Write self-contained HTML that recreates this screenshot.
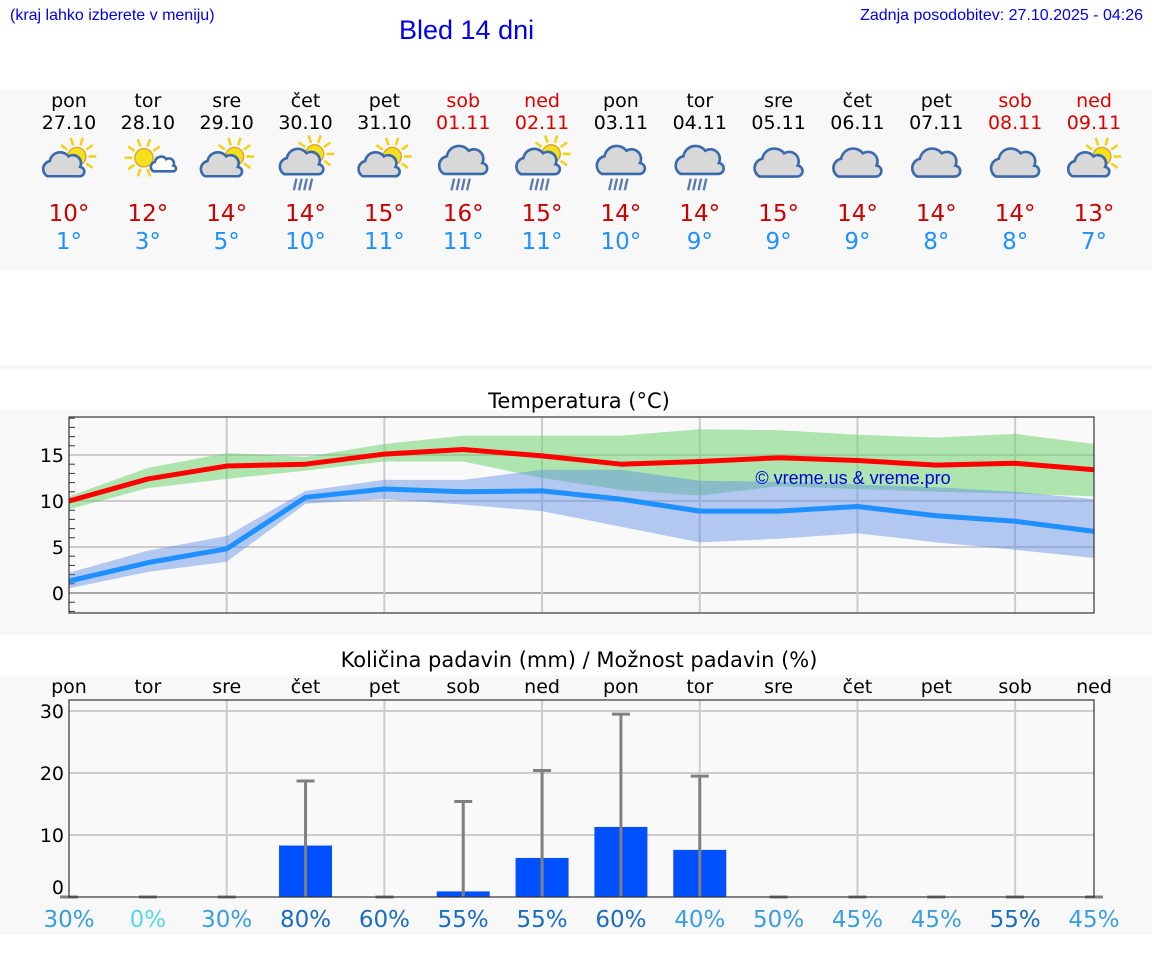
<!DOCTYPE html>
<html><head><meta charset="utf-8"><style>
body{margin:0;width:1152px;height:975px;background:#fff;font-family:"DejaVu Sans","Liberation Sans",sans-serif;position:relative;overflow:hidden}
.a{position:absolute}
</style></head><body>
<div class="a" style="left:10px;top:7px;font:16px 'Liberation Sans',sans-serif;color:#0000ee">(kraj lahko izberete v meniju)</div>
<div class="a" style="left:399px;top:15px;font:27px 'Liberation Sans',sans-serif;color:#0000ee">Bled 14 dni</div>
<div class="a" style="right:9px;top:7px;font:16px 'Liberation Sans',sans-serif;color:#0000ee">Zadnja posodobitev: 27.10.2025 - 04:26</div>
<div class="a" style="left:0;top:90px;width:1152px;height:180px;background:#f8f8f8"></div>
<div class="a" style="left:0;top:365px;width:1152px;height:5px;background:#f8f8f8"></div>
<div class="a" style="left:0;top:410px;width:1152px;height:225px;background:#f8f8f8"></div>
<div class="a" style="left:0;top:675px;width:1152px;height:260px;background:#f8f8f8"></div>
<svg id="ch" class="a" style="left:0;top:0" width="1152" height="975"></svg>
<script>
const days=["pon","tor","sre","čet","pet","sob","ned","pon","tor","sre","čet","pet","sob","ned"];
const dates=["27.10","28.10","29.10","30.10","31.10","01.11","02.11","03.11","04.11","05.11","06.11","07.11","08.11","09.11"];
const icons=["pc","ps","pc","pr","pc","cr","pr","cr","cr","c","c","c","c","pc"];
const tMaxLbl=[10,12,14,14,15,16,15,14,14,15,14,14,14,13];
const tMinLbl=[1,3,5,10,11,11,11,10,9,9,9,8,8,7];
const tMax=[10,12.4,13.8,14,15.1,15.6,14.9,14,14.3,14.7,14.4,13.9,14.1,13.4];
const tMaxHi=[10.5,13.6,15.2,14.8,16.2,17.1,17.1,17.1,17.8,17.7,17.2,16.9,17.3,16.2];
const tMaxLo=[9.1,11.4,12.4,13.3,14.3,14.3,12.5,11.2,10.6,11.6,11.3,11,10.8,10.5];
const tMin=[1.3,3.3,4.8,10.4,11.3,11,11.1,10.2,8.9,8.9,9.4,8.4,7.8,6.7];
const tMinHi=[2.2,4.6,6.2,11.1,12.3,12.3,13.4,13.4,12.2,12.1,11.8,11.5,11,10.2];
const tMinLo=[0.5,2.3,3.4,9.7,10.2,9.6,8.9,7.2,5.5,5.9,6.5,5.5,4.7,3.8];
const rain=[0,0,0,8.3,0,0.9,6.3,11.3,7.6,0,0,0,0,0];
const rainMax=[0,0,0,18.7,0,15.4,20.4,29.5,19.5,0,0,0,0,0];
const prob=[30,0,30,80,60,55,55,60,40,50,45,45,55,45];
const tTicks=[0,5,10,15];
const pTicks=[0,10,20,30];
const NS="http://www.w3.org/2000/svg";
const svg=document.getElementById('ch');
const X=i=>69+i*78.846;
const YT=v=>593-v*9.2;
const YP=v=>897-v*6.2;
function el(t,a,p){const e=document.createElementNS(NS,t);for(const k in a)e.setAttribute(k,a[k]);(p||svg).appendChild(e);return e;}
function txt(x,y,s,size,fill,anchor){const e=el('text',{x:x,y:y,'font-size':size,fill:fill,'text-anchor':anchor||'middle','font-family':'DejaVu Sans, Liberation Sans, sans-serif'});e.textContent=s;return e;}
const dayRed=[5,6,12,13];
days.forEach((d,i)=>{
 const c=dayRed.includes(i)?'#dd0000':'#000';
 let t=txt(X(i),107,d,19,c);
 t=txt(X(i),129,dates[i],19,c);
 t=txt(X(i),221,tMaxLbl[i]+'°',23,'#cc0000');
 t=txt(X(i),249,tMinLbl[i]+'°',23,'#1e90ff');
 const g=el('g',{transform:`translate(${X(i)},163) scale(1.3)`});
 
 
 const ic=icons[i];
 function sun(cx,cy,r){for(let k=0;k<10;k++){const a=k*Math.PI/5;el('line',{x1:cx+Math.cos(a)*(r+2),y1:cy+Math.sin(a)*(r+2),x2:cx+Math.cos(a)*(r+8),y2:cy+Math.sin(a)*(r+8),stroke:'#f2d21c','stroke-width':2},g);}el('circle',{cx:cx,cy:cy,r:r,fill:'#f5e020',stroke:'#e0a020','stroke-width':1},g);}
 function cloud(cx,cy,s,fill){const p=`M${cx-14*s},${cy+8*s} a${7*s},${7*s} 0 0 1 ${2*s},${-13*s} a${9*s},${9*s} 0 0 1 ${16*s},${-4*s} a${7*s},${7*s} 0 0 1 ${10*s},${9*s} a${4*s},${4*s} 0 0 1 ${-1*s},${8*s} z`;el('path',{d:p,fill:fill,stroke:'#3a6aae','stroke-width':2},g);}
 function drops(){for(let k=0;k<4;k++)el('line',{x1:-7+k*4,y1:12,x2:-9+k*4,y2:21,stroke:'#5a7ab0','stroke-width':1.8},g);}
 if(ic=='pc'){sun(6,-5,7);cloud(-4,3,0.9,'#d8d8d8');}
 if(ic=='ps'){sun(-3,-4,7);cloud(12,2,0.55,'#fff');}
 if(ic=='pr'){sun(7,-7,7);cloud(-3,1,0.95,'#d8d8d8');drops();}
 if(ic=='cr'){cloud(0,0,1.05,'#d8d8d8');drops();}
 if(ic=='c'){cloud(0,2,1.05,'#d8d8d8');}
});
// temperature chart
txt(579,408,'Temperatura (°C)',21,'#000');
el('rect',{x:69,y:417,width:1025,height:196,fill:'#f9f9f9'});
for(let v=-2;v<=19;v++){el('line',{x1:69,x2:75,y1:YT(v),y2:YT(v),stroke:'#333','stroke-width':1});}
tTicks.forEach(v=>{el('line',{x1:69,x2:1094,y1:YT(v),y2:YT(v),stroke:v==0?'#555':'#ccc','stroke-width':v==0?1:2});
 const t=txt(64,YT(v)+7,String(v),19,'#000','end');});
for(let i=2;i<13;i+=2)el('line',{x1:X(i),x2:X(i),y1:417,y2:613,stroke:'#ccc','stroke-width':2});
function band(hi,lo,col){let d='M'+hi.map((v,i)=>X(i)+','+YT(v)).join(' L');for(let i=lo.length-1;i>=0;i--)d+=' L'+X(i)+','+YT(lo[i]);return el('path',{d:d+'Z',fill:col});}
function line(arr,col){return el('polyline',{points:arr.map((v,i)=>X(i)+','+YT(v)).join(' '),fill:'none',stroke:col,'stroke-width':5,'stroke-linejoin':'round'});}
band(tMaxHi,tMaxLo,'rgba(100,210,100,0.5)');
band(tMinHi,tMinLo,'rgba(90,140,230,0.45)');
line(tMax,'#ff0000');
line(tMin,'#1e90ff');
const wm=txt(853,484,'© vreme.us & vreme.pro',18,'#0000dd');
wm.setAttribute('font-family','Liberation Sans, sans-serif');

el('rect',{x:69,y:417,width:1025,height:196,fill:'none',stroke:'#333','stroke-width':1.2});
// precip chart
txt(579,667,'Količina padavin (mm) / Možnost padavin (%)',21,'#000');
days.forEach((d,i)=>{const t=txt(X(i),693,d,19,'#000');});
el('rect',{x:69,y:700,width:1025,height:197,fill:'#f9f9f9'});
pTicks.forEach(v=>{if(v>0)el('line',{x1:69,x2:1094,y1:YP(v),y2:YP(v),stroke:'#ccc','stroke-width':2});
 const t=txt(64,YP(v)+(v==0?-3:7),String(v),19,'#000','end');});
for(let i=2;i<13;i+=2)el('line',{x1:X(i),x2:X(i),y1:700,y2:897,stroke:'#ccc','stroke-width':2});
rain.forEach((v,i)=>{
 if(v>0){const b=el('rect',{x:X(i)-26.5,y:YP(v),width:53,height:YP(0)-YP(v),fill:'#0050ff'});}
 el('line',{x1:X(i),x2:X(i),y1:YP(0),y2:YP(rainMax[i]),stroke:'#808080','stroke-width':3});
 el('line',{x1:X(i)-9,x2:X(i)+9,y1:YP(rainMax[i]),y2:YP(rainMax[i]),stroke:'#808080','stroke-width':3});
 const c=prob[i]==0?'#55d8ee':prob[i]>=55?'#1a6cc0':'#3a9ee0';
 const t=txt(X(i),927,prob[i]+'%',23,c);
});
el('rect',{x:69,y:700,width:1025,height:197,fill:'none',stroke:'#333','stroke-width':1.2});
</script>
</body></html>
